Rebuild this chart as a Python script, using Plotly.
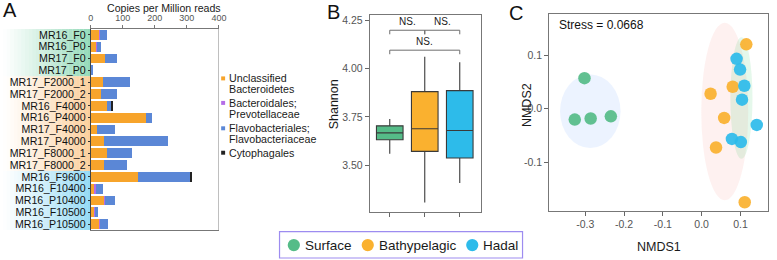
import plotly.graph_objects as go

W, H = 777, 260
def PX(x): return x / W
def PY(y): return 1 - y / H

FONT = "Liberation Sans, Arial, sans-serif"

# ---------------- Panel A data ----------------
samples = ["MR16_F0", "MR16_P0", "MR17_F0", "MR17_P0", "MR17_F2000_1", "MR17_F2000_2",
           "MR16_F4000", "MR16_P4000", "MR17_F4000", "MR17_P4000", "MR17_F8000_1",
           "MR17_F8000_2", "MR16_F9600", "MR16_F10400", "MR16_P10400", "MR16_F10500",
           "MR16_P10500"]
unclassified_bact = [27, 17, 46, 1, 39, 33, 50, 171, 20, 41, 51, 42, 147, 12, 41, 12, 25]
prevotellaceae = [3, 2, 0, 0, 0, 0, 0, 0, 0, 0, 0, 0, 0, 4, 3, 2, 3]
flavobacteriaceae = [21, 14, 35, 3, 82, 49, 14, 21, 57, 200, 77, 72, 163, 23, 32, 10, 25]
cytophagales = [0, 0, 0, 0, 0, 0, 5, 0, 0, 0, 0, 0, 3, 0, 0, 0, 0]
taxa_names = ["Unclassified|Bacteroidetes", "Bacteroidales;|Prevotellaceae",
              "Flavobacteriales;|Flavobacteriaceae", "Cytophagales"]
taxa_colors = ["#F7A42B", "#B46DE8", "#5B87D6", "#222222"]
a_ticks = [0, 100, 200, 300, 400]
group_rows = [("surface", 0, 4), ("bathy", 4, 12), ("hadal", 12, 17)]
band_colors = {"surface": (110, 205, 160), "bathy": (250, 190, 120), "hadal": (110, 205, 240)}

# ---------------- Panel B data ----------------
box_groups = ["Surface", "Bathypelagic", "Hadal"]
box_lower = [3.560, 3.308, 3.409]
box_q1 = [3.632, 3.572, 3.538]
box_median = [3.668, 3.689, 3.680]
box_q3 = [3.704, 3.881, 3.886]
box_upper = [3.740, 4.061, 4.032]
group_colors = ["#55BC88", "#FAB12F", "#2DBBEA"]
b_ticks = [3.50, 3.75, 4.00, 4.25]
# comparisons: (from idx, to idx, bracket level, label)
comparisons = [(0, 1, 4.198, "NS."), (1, 2, 4.198, "NS."), (0, 2, 4.095, "NS.")]

# ---------------- Panel C data ----------------
surface_x = [-0.302, -0.327, -0.286, -0.234]
surface_y = [0.057, -0.020, -0.018, -0.014]
bathy_x = [0.115, 0.023, 0.080, 0.058, 0.037, 0.111]
bathy_y = [0.120, 0.028, 0.041, -0.017, -0.072, -0.174]
hadal_x = [0.090, 0.099, 0.110, 0.104, 0.142, 0.078, 0.101]
hadal_y = [0.093, 0.073, 0.043, 0.017, -0.030, -0.056, -0.062]
# ellipses: (x0, x1, y0, y1, fill)
ellipses = [(-0.001, 0.120, -0.170, 0.160, "rgba(248,118,109,0.10)"),
            (0.074, 0.131, -0.093, 0.133, "rgba(0,186,56,0.10)"),
            (-0.365, -0.209, -0.073, 0.064, "rgba(97,156,255,0.12)")]
c_xticks = [-0.3, -0.2, -0.1, 0.0, 0.1]
c_yticks = [-0.1, 0.0, 0.1]

fig = go.Figure()

# ---- Panel A bars ----
for vals, name, col in zip([unclassified_bact, prevotellaceae, flavobacteriaceae, cytophagales],
                           taxa_names, taxa_colors):
    fig.add_trace(go.Bar(y=samples, x=vals, orientation="h", name=name.replace("|", " "),
                         marker=dict(color=col, line=dict(width=0)),
                         xaxis="x", yaxis="y", showlegend=False))

# ---- Panel B boxes ----
for i, g in enumerate(box_groups):
    fig.add_trace(go.Box(x=[i], q1=[box_q1[i]], median=[box_median[i]], q3=[box_q3[i]],
                         lowerfence=[box_lower[i]], upperfence=[box_upper[i]],
                         width=0.76, whiskerwidth=0, fillcolor=group_colors[i],
                         line=dict(color="#3a3a3a", width=1.1), boxpoints=False,
                         xaxis="x2", yaxis="y2", showlegend=False, name=g))

# ---- Panel C points ----
for xs, ys, col, g in [(surface_x, surface_y, group_colors[0], "Surface"),
                       (bathy_x, bathy_y, group_colors[1], "Bathypelagic"),
                       (hadal_x, hadal_y, group_colors[2], "Hadal")]:
    fig.add_trace(go.Scatter(x=xs, y=ys, mode="markers", name=g,
                             marker=dict(color=col, size=12.5, opacity=0.92, line=dict(width=0)),
                             xaxis="x3", yaxis="y3", showlegend=False))

shapes = []
annotations = []

# label background gradient bands (panel A)
nstrip = 24
for key, r0, r1 in group_rows:
    cr, cg, cb = band_colors[key]
    for k in range(nstrip):
        x0 = 0 + 89 * k / nstrip
        x1 = 0 + 89 * (k + 1) / nstrip
        op = 0.75 * ((k + 0.5) / nstrip) ** 1.1
        shapes.append(dict(type="rect", xref="paper", yref="y", x0=PX(x0), x1=PX(x1),
                           y0=r0 - 0.5, y1=r1 - 0.5, line=dict(width=0),
                           fillcolor=f"rgba({cr},{cg},{cb},{op:.3f})", layer="below"))

# right border of panel A
shapes.append(dict(type="line", xref="x", yref="y domain", x0=400, x1=400, y0=0, y1=1,
                   line=dict(color="#8a8a8a", width=1)))

# panel A legend
leg_y = [[77.7, 88.3], [102.3, 113.0], [127.8, 138.5], [152.3]]
for name, col, ys in zip(taxa_names, taxa_colors, leg_y):
    shapes.append(dict(type="rect", xref="paper", yref="paper",
                       x0=PX(221.3), x1=PX(225.3), y0=PY(ys[0] + 2), y1=PY(ys[0] - 2),
                       fillcolor=col, line=dict(width=0)))
    for line_txt, yy in zip(name.split("|"), ys):
        annotations.append(dict(text=line_txt, xref="paper", yref="paper", x=PX(227.5), y=PY(yy),
                                xanchor="left", yanchor="middle", showarrow=False,
                                font=dict(size=10.7, color="#1a1a1a", family=FONT)))

# panel A x title
annotations.append(dict(text="Copies per Million reads", xref="paper", yref="paper",
                        x=PX(163), y=PY(7), xanchor="center", yanchor="middle", showarrow=False,
                        font=dict(size=10.6, color="#1a1a1a", family=FONT)))

# panel letters
for letter, xx, yy in [("A", 7.5, 9), ("B", 335.5, 11), ("C", 520, 12)]:
    annotations.append(dict(text=letter, xref="paper", yref="paper", x=PX(xx), y=PY(yy),
                            xanchor="center", yanchor="middle", showarrow=False,
                            font=dict(size=20, color="#111111", family=FONT)))

# panel B brackets
drop = 0.021
for i0, i1, lvl, lab in comparisons:
    shapes.append(dict(type="path", xref="x2", yref="y2",
                       path=f"M {i0},{lvl - drop} L {i0},{lvl} L {i1},{lvl} L {i1},{lvl - drop}",
                       line=dict(color="#6e6e6e", width=1)))
    annotations.append(dict(text=lab, xref="x2", yref="y2", x=(i0 + i1) / 2, y=lvl + 0.006,
                            xanchor="center", yanchor="bottom", showarrow=False,
                            font=dict(size=10, color="#1a1a1a", family=FONT)))

# panel B y title
annotations.append(dict(text="Shannon", xref="paper", yref="paper", x=PX(335.5), y=PY(104),
                        xanchor="center", yanchor="middle", textangle=-90, showarrow=False,
                        font=dict(size=12.5, color="#1a1a1a", family=FONT)))

# panel C ellipses
for x0, x1, y0, y1, fc in ellipses:
    shapes.append(dict(type="circle", xref="x3", yref="y3", x0=x0, x1=x1, y0=y0, y1=y1,
                       fillcolor=fc, line=dict(width=0), layer="below"))

# panel C titles
annotations.append(dict(text="NMDS1", xref="paper", yref="paper", x=PX(665), y=PY(247),
                        xanchor="center", yanchor="middle", showarrow=False,
                        font=dict(size=12.5, color="#1a1a1a", family=FONT)))
annotations.append(dict(text="NMDS2", xref="paper", yref="paper", x=PX(531), y=PY(104),
                        xanchor="center", yanchor="middle", textangle=-90, showarrow=False,
                        font=dict(size=12.5, color="#1a1a1a", family=FONT)))
annotations.append(dict(text="Stress = 0.0668", xref="paper", yref="paper", x=PX(561.5), y=PY(24),
                        xanchor="left", yanchor="middle", showarrow=False,
                        font=dict(size=12, color="#111111", family=FONT)))

# bottom legend
shapes.append(dict(type="rect", xref="paper", yref="paper", x0=PX(280.5), x1=PX(527),
                   y0=PY(258), y1=PY(231.5), line=dict(color="#9D8CF0", width=1.2),
                   fillcolor="rgba(0,0,0,0)"))
for g, col, cx, tx in zip(box_groups, group_colors, [295, 370, 476], [304.5, 379.5, 485]):
    shapes.append(dict(type="circle", xref="paper", yref="paper",
                       x0=PX(cx - 6.2), x1=PX(cx + 6.2), y0=PY(245 + 6.2), y1=PY(245 - 6.2),
                       fillcolor=col, line=dict(width=0)))
    annotations.append(dict(text=g, xref="paper", yref="paper", x=PX(tx), y=PY(245),
                            xanchor="left", yanchor="middle", showarrow=False,
                            font=dict(size=13.5, color="#1a1a1a", family=FONT)))

tickfont = dict(size=10.5, color="#555555", family=FONT)
ax_line = "#777777"

def fmt1(v):
    return f"{v:.1f}"

fig.update_layout(
    width=W, height=H, margin=dict(l=0, r=0, t=0, b=0),
    paper_bgcolor="white", plot_bgcolor="rgba(0,0,0,0)",
    barmode="stack", bargap=0.16, showlegend=False,
    font=dict(family=FONT),
    shapes=shapes, annotations=annotations,
    xaxis=dict(domain=[PX(89), PX(219)], range=[0, 400], side="top", tickvals=a_ticks,
               ticks="outside", ticklen=3, tickcolor="#777", showline=True, linecolor=ax_line,
               linewidth=1, mirror=True, showgrid=False, zeroline=False,
               tickfont=dict(size=9, color="#555555", family=FONT), anchor="y"),
    yaxis=dict(domain=[PY(230), PY(28)], categoryorder="array", categoryarray=samples,
               tickmode="array", tickvals=samples, ticktext=samples,
               autorange="reversed", ticks="outside", ticklen=2, tickcolor="#333",
               showline=True, linecolor="#444", linewidth=1, showgrid=False,
               tickfont=dict(size=10.6, color="#111111", family=FONT), anchor="x"),
    xaxis2=dict(domain=[PX(372), PX(485)], range=[-0.572, 2.611], tickvals=[0, 1, 2],
                ticktext=["", "", ""], ticks="outside", ticklen=4, tickcolor="#666",
                showline=True, linecolor=ax_line, linewidth=1, mirror=True, showgrid=False,
                zeroline=False, anchor="y2"),
    yaxis2=dict(domain=[PY(212), PY(14)], range=[3.258, 4.277], tickvals=b_ticks,
                ticktext=[f"{v:.2f}" for v in b_ticks], ticks="outside", ticklen=4,
                tickcolor="#666", showline=True, linecolor=ax_line, linewidth=1, mirror=True,
                showgrid=False, zeroline=False, tickfont=tickfont, anchor="x2"),
    xaxis3=dict(domain=[PX(554), PX(776)], range=[-0.393, 0.171], tickvals=c_xticks,
                ticktext=[fmt1(v) for v in c_xticks], ticks="outside", ticklen=4,
                tickcolor="#666", showline=True, linecolor=ax_line, linewidth=1, mirror=True,
                showgrid=False, zeroline=False, tickfont=tickfont, anchor="y3"),
    yaxis3=dict(domain=[PY(210.7), PY(13.3)], range=[-0.190, 0.176], tickvals=c_yticks,
                ticktext=[fmt1(v) for v in c_yticks], ticks="outside", ticklen=4,
                tickcolor="#666", showline=True, linecolor=ax_line, linewidth=1, mirror=True,
                showgrid=False, zeroline=False, tickfont=tickfont, anchor="x3"),
)

fig.write_html("out.html", config={"displayModeBar": False},
               post_script="document.body.style.margin='0';document.body.style.overflow='hidden';")
